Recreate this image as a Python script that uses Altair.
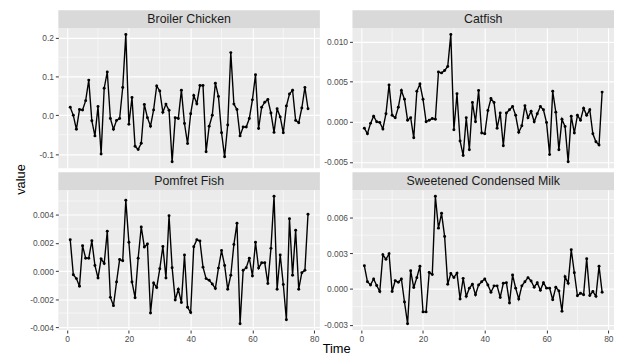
import altair as alt
import pandas as pd

time = list(range(1, 79))

broiler = [0.021, 0.0, -0.036, 0.015, 0.014, 0.038, 0.091, -0.014, -0.053, 0.023,
           -0.100, 0.070, 0.112, -0.008, -0.036, -0.013, -0.008, 0.072, 0.209, -0.023,
           0.046, -0.080, -0.088, -0.072, 0.028, -0.006, -0.028, 0.014, 0.076, 0.063,
           0.008, 0.029, 0.013, -0.120, -0.006, -0.008, 0.065, -0.021, -0.073, 0.004,
           0.051, 0.030, 0.077, 0.077, -0.094, -0.028, 0.000, 0.083, 0.049, -0.045,
           -0.107, -0.025, 0.162, 0.029, 0.015, -0.053, -0.030, -0.030, -0.008, 0.040,
           0.105, -0.034, 0.021, 0.034, 0.041, 0.006, -0.044, 0.017, -0.004, -0.045,
           0.024, 0.055, 0.065, -0.013, -0.019, 0.019, 0.072, 0.017]

catfish = [-0.0008, -0.0015, -0.0002, 0.0007, 0.0, -0.0001, -0.0009, 0.0010, 0.0046, 0.0008,
           0.0005, 0.0018, 0.0039, 0.0028, 0.0002, 0.0005, -0.0020, 0.0038, 0.0047, 0.0028,
           0.0, 0.0002, 0.0004, 0.0003, 0.0062, 0.0061, 0.0064, 0.0069, 0.0109, -0.0010,
           0.0035, -0.0024, -0.0042, 0.0005, -0.0035, 0.0024, 0.0, 0.0039, -0.0014, -0.0015,
           0.0014, 0.0029, 0.0024, -0.0008, 0.0011, -0.0030, 0.0011, 0.0015, 0.0019, 0.0008,
           -0.0013, -0.0005, 0.0020, 0.0005, 0.0013, 0.0, 0.0010, 0.0019, 0.0015, -0.0001,
           -0.0041, 0.0038, 0.0012, -0.0035, 0.0003, -0.0006, -0.0050, 0.0007, -0.0014, 0.0008,
           0.0002, 0.0017, 0.0008, 0.0015, -0.0015, -0.0025, -0.0029, 0.0037]

pomfret = [0.00224, -0.00026, -0.00054, -0.00108, 0.0018, 0.00092, 0.00092, 0.00216, 0.0004, -0.0005,
           0.00087, 0.00054, 0.00285, -0.00188, -0.00247, -0.00078, 0.00082, 0.00073, 0.00506, 0.00205,
           -0.00078, -0.0019, 0.00092, 0.00315, 0.00172, 0.00193, -0.003, -0.00085, -0.00118, 0.00016,
           0.00176, -0.0005, 0.00395, 0.00024, -0.00207, -0.0013, -0.00224, 0.00115, -0.00259, -0.00296,
           0.00174, 0.00224, 0.00214, 0.00028, -0.00054, -0.00066, -0.00092, -0.00125, 0.00021, 0.00146,
           0.0004, -0.0013, -0.0003, 0.0019, 0.00341, -0.00376, 0.00005, 0.00024, 0.00092, -0.00035,
           0.00205, 0.00021, 0.00059, 0.00059, -0.00089, 0.00162, 0.00534, -0.0013, 0.00115, -0.00096,
           -0.00348, 0.00374, -0.0003, 0.00292, -0.0013, -0.00012, 0.00005, 0.00405]

milk = [0.00193, 0.0006, 0.00033, 0.00083, 0.00028, -0.00022, 0.00286, 0.00248, 0.00294, -0.00022,
        0.00069, 0.00055, 0.00083, -0.0011, -0.00292, 0.00151, 0.00011, 0.00094, 0.0019, -0.00193,
        -0.00193, 0.00138, 0.00121, 0.00776, 0.00509, 0.00633, 0.00438, 0.00039, 0.00129, 0.00096,
        0.00132, -0.00085, 0.00088, -0.00063, 0.00006, 0.00039, -0.0005, 0.00033, 0.0006, 0.00083,
        0.00033, -0.00028, 0.00025, 0.00025, -0.00072, 0.00047, 0.00052, -0.00118, 0.00116, 0.00006,
        -0.00085, 0.00025, 0.0006, 0.00094, 0.00066, 0.00014, 0.00052, -0.00011, 0.00052, 0.00006,
        0.00006, -0.00091, 0.00014, -0.00017, -0.00187, 0.00102, 0.00047, 0.00328, 0.00135, -0.00058,
        -0.00036, -0.0005, 0.00253, -0.00055, -0.00022, -0.00063, 0.0019, -0.00028]

names = ["Broiler Chicken", "Catfish", "Pomfret Fish", "Sweetened Condensed Milk"]
series = [broiler, catfish, pomfret, milk]

x_ticks = [0, 20, 40, 60, 80]
x_minor = [10, 30, 50, 70]
y_ticks = [[-0.1, 0.0, 0.1, 0.2],
           [-0.005, 0.0, 0.005, 0.010],
           [-0.004, -0.002, 0.0, 0.002, 0.004],
           [-0.003, 0.0, 0.003, 0.006]]
y_minor = [[-0.05, 0.05, 0.15],
           [-0.0025, 0.0025, 0.0075],
           [-0.003, -0.001, 0.001, 0.003, 0.005],
           [-0.0015, 0.0015, 0.0045, 0.0075]]
y_formats = [".1f", ".3f", ".3f", ".3f"]

W, H = 265, 142
STRIP = 18
FONT = "Liberation Sans"


def panel(i):
    name = names[i]
    vals = series[i]
    df = pd.DataFrame({"Time": time, "value": vals})
    lo, hi = min(vals), max(vals)
    ypad = 0.05 * (hi - lo)
    tlo, thi = min(time), max(time)
    xpad = 0.05 * (thi - tlo)
    xs = alt.Scale(domain=[tlo - xpad, thi + xpad], nice=False, zero=False)
    ys = alt.Scale(domain=[lo - ypad, hi + ypad], nice=False, zero=False)

    bottom = i >= 2
    left = i % 2 == 0

    if bottom:
        if left:
            xaxis = alt.Axis(values=x_ticks, format="d", title="Time",
                             titleX=281.5, titleY=22.5, titleAlign="center",
                             titleBaseline="alphabetic", labelFlush=False)
        else:
            xaxis = alt.Axis(values=x_ticks, format="d", title=None, labelFlush=False)
    else:
        xaxis = alt.Axis(values=x_ticks, title=None, labels=False, ticks=False)

    label_expr = "replace(format(datum.value, '%s'), '\u2212', '-')" % y_formats[i]
    if bottom and left:
        yaxis = alt.Axis(values=y_ticks[i], labelExpr=label_expr, title="value",
                         titleX=-34, titleY=-11, titleAngle=270, titleAlign="center",
                         titleBaseline="alphabetic", labelFlush=False)
    else:
        yaxis = alt.Axis(values=y_ticks[i], labelExpr=label_expr, title=None,
                         labelFlush=False)

    strip_df = pd.DataFrame({"name": [name]})
    strip = alt.Chart(strip_df).mark_rect(color="#D9D9D9").encode(
        x=alt.value(0), x2=alt.value(W), y=alt.value(-STRIP), y2=alt.value(0))
    strip_text = alt.Chart(strip_df).mark_text(
        font=FONT, fontSize=12.5, color="#1A1A1A", baseline="middle", align="center"
    ).encode(text="name:N", x=alt.value(W / 2), y=alt.value(-STRIP / 2))

    mx = alt.Chart(pd.DataFrame({"v": x_minor})).mark_rule(
        color="white", strokeWidth=0.55).encode(
        x=alt.X("v:Q", scale=xs, axis=xaxis))
    my = alt.Chart(pd.DataFrame({"w": y_minor[i]})).mark_rule(
        color="white", strokeWidth=0.55).encode(
        y=alt.Y("w:Q", scale=ys, axis=yaxis))

    line = alt.Chart(df).mark_line(color="black", strokeWidth=1.4).encode(
        x=alt.X("Time:Q", scale=xs, axis=xaxis),
        y=alt.Y("value:Q", scale=ys, axis=yaxis))
    pts = alt.Chart(df).mark_point(filled=True, size=9, color="black", opacity=1).encode(
        x=alt.X("Time:Q", scale=xs, axis=xaxis),
        y=alt.Y("value:Q", scale=ys, axis=yaxis))

    return alt.layer(mx, my, line, pts, strip, strip_text).properties(width=W, height=H)


panels = [panel(i) for i in range(4)]

chart = alt.concat(*panels, columns=2, spacing={"row": 22, "column": 33}).properties(
    bounds="flush",
    padding={"left": 7, "top": 0, "right": 0, "bottom": 0},
).configure_view(
    fill="#EBEBEB", strokeWidth=0
).configure_axis(
    grid=True, gridColor="white", gridWidth=1.1, domain=False,
    tickColor="#333333", tickSize=3, tickWidth=1,
    labelColor="#4D4D4D", labelFont=FONT, labelFontSize=8.5, labelPadding=2,
    titleFont=FONT, titleFontSize=13, titleColor="black", titleFontWeight="normal",
).configure_concat(spacing=0)

chart.save("out.html", embed_options={"renderer": "svg", "actions": False})
